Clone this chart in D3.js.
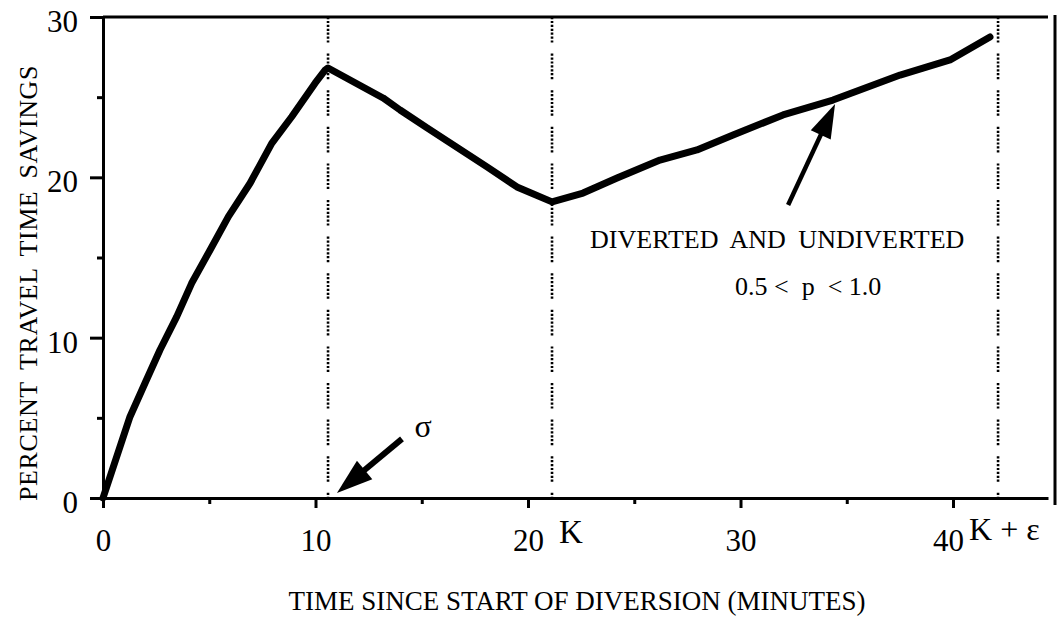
<!DOCTYPE html>
<html><head><meta charset="utf-8">
<script src="https://cdn.jsdelivr.net/npm/d3@7"></script>
<style>
body{margin:0;background:#fff;}
svg{display:block;}
text{font-family:"Liberation Serif","Times New Roman",serif;fill:#000;}
</style>
</head><body>
<svg id="c" width="1057" height="619"></svg>
<script>
// ---- data ----
const timeMin    = [0, 1.27, 1.98, 2.68, 3.47, 4.17, 5.04, 5.90, 6.92, 7.94, 8.88, 9.98, 10.45, 10.59,
                    13.18, 13.98, 15.25, 18.07, 19.48, 21.13,
                    22.59, 24.19, 26.21, 27.95, 29.65, 32.00, 34.35, 37.51, 39.86, 41.74];
const savingsPct = [0, 5.07, 7.17, 9.23, 11.31, 13.39, 15.47, 17.55, 19.63, 22.12, 23.78, 25.87, 26.69, 26.82,
                    24.95, 24.20, 23.08, 20.65, 19.40, 18.47,
                    19.02, 19.96, 21.08, 21.71, 22.64, 23.89, 24.82, 26.38, 27.32, 28.75];
const xTickValues = [0, 10, 20, 30, 40];
const xMinorTicks = [5, 15, 25, 35];
const yTickValues = [0, 10, 20, 30];
const yMinorTicks = [5, 15, 25];
const markerTimes = [10.59, 21.13, 42.12];   // sigma, K, K + epsilon
const markerLabels = ["σ", "K", "K + ε"];
const xTitle = "TIME SINCE START OF DIVERSION (MINUTES)";
const yTitle = "PERCENT TRAVEL TIME SAVINGS";
const curveLabel = ["DIVERTED AND UNDIVERTED", "0.5 <  p  < 1.0"];

// ---- scales ----
const svg = d3.select("#c");
const x = d3.scaleLinear().domain([0, 44.47]).range([103, 1048]);
const y = d3.scaleLinear().domain([0, 30]).range([498, 17]);

// top frame line
svg.append("line").attr("x1", x(0)).attr("x2", x.range()[1])
  .attr("y1", y(30)).attr("y2", y(30)).attr("stroke", "#000").attr("stroke-width", 3);
// right bar
svg.append("line").attr("x1", 1055).attr("x2", 1055).attr("y1", 15).attr("y2", 505)
  .attr("stroke", "#000").attr("stroke-width", 3);

// dotted marker lines
svg.selectAll("line.mk").data(markerTimes).enter().append("line")
  .attr("class", "mk")
  .attr("x1", d => x(d)).attr("x2", d => x(d))
  .attr("y1", y(30)).attr("y2", y(0))
  .attr("stroke", "#000").attr("stroke-width", 2.6)
  .attr("stroke-dasharray", "2.2,1.7,2.2,1.7,2.2,1.7,2.2,1.7,2.2,1.7,2.2,1.7,2.2,11");

// axes
const xAxis = d3.axisBottom(x).tickValues(xTickValues).tickSize(10).tickSizeOuter(0).tickPadding(21).tickFormat(d3.format("d"));
const gx = svg.append("g").attr("transform", `translate(0,${y(0)})`).call(xAxis);
const yAxis = d3.axisLeft(y).tickValues(yTickValues).tickSize(13).tickSizeOuter(0).tickPadding(12).tickFormat(d3.format("d"));
const gy = svg.append("g").attr("transform", `translate(${x(0)},0)`).call(yAxis);
[gx, gy].forEach(g => {
  g.select(".domain").attr("stroke", "#000").attr("stroke-width", 3);
  g.selectAll(".tick line").attr("stroke", "#000").attr("stroke-width", 3);
  g.selectAll(".tick text").attr("font-size", 31).attr("fill", "#000");
});
gy.selectAll(".tick text").attr("dy", "0.47em");
gx.selectAll(".tick text").filter(d => d === 40).attr("dx", -5);
// minor ticks
const gxm = svg.append("g").attr("transform", `translate(0,${y(0)})`)
  .call(d3.axisBottom(x).tickValues(xMinorTicks).tickSize(6).tickSizeOuter(0).tickFormat(""));
const gym = svg.append("g").attr("transform", `translate(${x(0)},0)`)
  .call(d3.axisLeft(y).tickValues(yMinorTicks).tickSize(6).tickSizeOuter(0).tickFormat(""));
[gxm, gym].forEach(g => {
  g.select(".domain").remove();
  g.selectAll(".tick line").attr("stroke", "#000").attr("stroke-width", 3);
});

// data line
const pts = timeMin.map((t, i) => [t, savingsPct[i]]);
svg.append("path").datum(pts)
  .attr("d", d3.line().x(d => x(d[0])).y(d => y(d[1])))
  .attr("fill", "none").attr("stroke", "#000").attr("stroke-width", 7)
  .attr("stroke-linejoin", "round").attr("stroke-linecap", "round");

// arrows (defined in data coordinates)
function arrow(tail, tip, lw, headLen, headW) {
  const x0 = x(tail[0]), y0 = y(tail[1]), x1 = x(tip[0]), y1 = y(tip[1]);
  const dx = x1 - x0, dy = y1 - y0, L = Math.hypot(dx, dy);
  const ux = dx / L, uy = dy / L, nx = -uy, ny = ux;
  const bx = x1 - ux * headLen, by = y1 - uy * headLen;
  svg.append("line").attr("x1", x0).attr("y1", y0).attr("x2", bx + ux * 2).attr("y2", by + uy * 2)
    .attr("stroke", "#000").attr("stroke-width", lw);
  svg.append("polygon")
    .attr("points", [[x1, y1], [bx + nx * headW / 2, by + ny * headW / 2], [bx - nx * headW / 2, by - ny * headW / 2]].map(p => p.join(",")).join(" "))
    .attr("fill", "#000");
}
arrow([14.07, 3.69], [11.01, 0.31], 6, 36, 24);
arrow([32.24, 18.27], [34.45, 24.57], 4.5, 34, 22);

// annotations
svg.append("text").attr("x", x(15.06)).attr("y", y(3.8)).attr("text-anchor", "middle")
  .attr("font-size", 32).text(markerLabels[0]);
svg.append("text").attr("x", x(markerTimes[1]) + 7).attr("y", 543).attr("font-size", 33).text(markerLabels[1]);
svg.append("text").attr("x", x(markerTimes[2]) - 29).attr("y", 540).attr("font-size", 32)
  .style("white-space", "pre").text(markerLabels[2]);

svg.append("text").attr("x", x(22.92)).attr("y", y(15.59)).attr("font-size", 26)
  .attr("word-spacing", 6).text(curveLabel[0]);
svg.append("text").attr("x", x(29.74)).attr("y", y(12.66)).attr("font-size", 26)
  .style("white-space", "pre").text(curveLabel[1]);

// axis titles
svg.append("text").attr("x", 577).attr("y", 610).attr("text-anchor", "middle")
  .attr("font-size", 27).text(xTitle);
svg.append("text").attr("transform", "translate(37,283) rotate(-90)").attr("text-anchor", "middle")
  .attr("font-size", 26).attr("letter-spacing", 0.6).attr("word-spacing", 5).text(yTitle);
</script>
</body></html>
